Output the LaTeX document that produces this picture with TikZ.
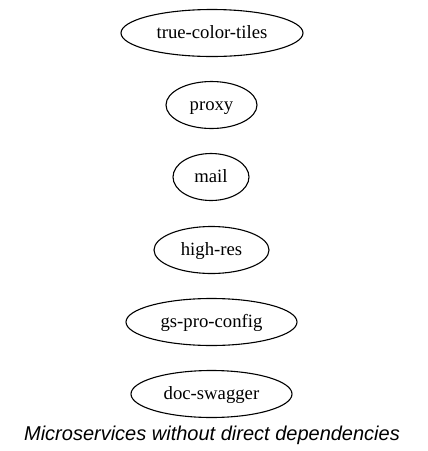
\documentclass[tikz,border=0pt]{standalone}
\usepackage{fontspec}
\setmainfont{Liberation Serif}
\newfontfamily\capfont{Liberation Sans}
\usetikzlibrary{shapes.geometric}
\begin{document}
\begin{tikzpicture}[x=1pt,y=1pt,
  svc/.style={draw, ellipse, line width=1.1pt, inner sep=0pt, minimum height=47pt,
    text height=15pt, text depth=4pt,
    font=\fontsize{18.7}{22}\selectfont},
  captext/.style={font=\capfont\itshape\fontsize{20}{24}\selectfont}]
\useasboundingbox (0,0) rectangle (428,-451);
\node[svc, minimum width=182pt] (tct) at (212,-33) {true-color-tiles};
\node[svc, minimum width=91pt] (proxy) at (211.5,-105) {proxy};
\node[svc, minimum width=76pt] (mail) at (211,-177) {mail};
\node[svc, minimum width=115pt] (hr) at (211.5,-250) {high-res};
\node[svc, minimum width=171pt] (gpc) at (211.5,-322) {gs-pro-config};
\node[svc, minimum width=161pt] (ds) at (211.5,-394) {doc-swagger};
\node[captext] (caption) at (212,-435) {Microservices without direct dependencies};
\end{tikzpicture}
\end{document}
